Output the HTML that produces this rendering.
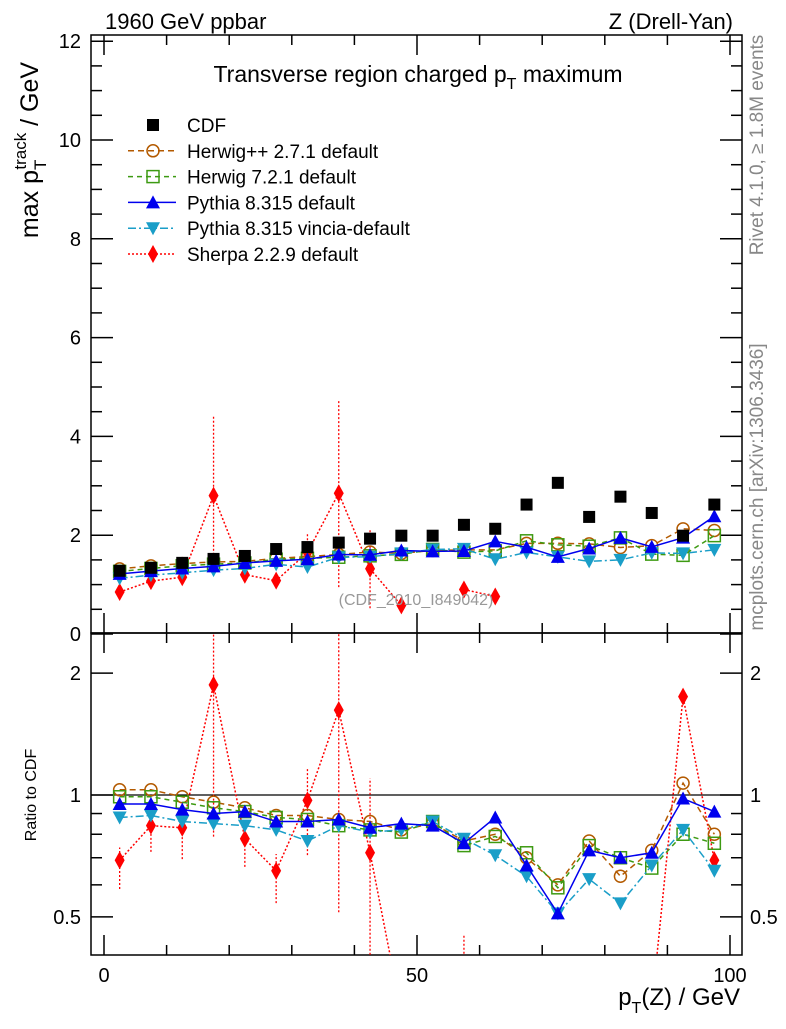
<!DOCTYPE html>
<html><head><meta charset="utf-8"><style>
body{margin:0;background:#fff;width:786px;height:1024px;overflow:hidden}
svg text{font-family:"Liberation Sans",sans-serif}
</style></head><body>
<svg id="c" width="786" height="1024" xmlns="http://www.w3.org/2000/svg">
<defs>
<clipPath id="cm"><rect x="91" y="35" width="651" height="598"/></clipPath>
<clipPath id="cr"><rect x="91" y="633" width="651" height="322"/></clipPath>
</defs>
<g id="axes"></g>
<g id="main" clip-path="url(#cm)"></g>
<g id="ratio" clip-path="url(#cr)"></g>
<text x="105" y="29" font-size="22">1960 GeV ppbar</text>
<text x="733" y="29" font-size="22" text-anchor="end">Z (Drell-Yan)</text>
<text x="418" y="82" font-size="23" text-anchor="middle">Transverse region charged p<tspan font-size="16" dy="7">T</tspan><tspan dy="-7"> maximum</tspan></text>
<text x="416" y="605" font-size="16" fill="#999" text-anchor="middle">(CDF_2010_I849042)</text>
<text transform="translate(763,145) rotate(-90)" font-size="19" fill="#888" text-anchor="middle">Rivet 4.1.0, ≥ 1.8M events</text>
<text transform="translate(763,487) rotate(-90)" font-size="19" fill="#888" text-anchor="middle">mcplots.cern.ch [arXiv:1306.3436]</text>
<text transform="translate(38,150) rotate(-90)" font-size="25" text-anchor="middle">max p<tspan font-size="17" dy="8">T</tspan><tspan font-size="17" dy="-20" dx="-10">track</tspan><tspan dy="12"> / GeV</tspan></text>
<text transform="translate(36,795) rotate(-90)" font-size="16" text-anchor="middle">Ratio to CDF</text>
<text x="740" y="1005" font-size="24" text-anchor="end">p<tspan font-size="16" dy="8">T</tspan><tspan dy="-8">(Z) / GeV</tspan></text>
<g id="legend"></g>
</svg>
<script>
const bins=[2.5,7.5,12.5,17.5,22.5,27.5,32.5,37.5,42.5,47.5,52.5,57.5,62.5,67.5,72.5,77.5,82.5,87.5,92.5,97.5];
const cdf=[1.28,1.34,1.44,1.52,1.58,1.72,1.76,1.85,1.93,1.99,1.99,2.21,2.13,2.62,3.06,2.37,2.78,2.45,1.99,2.62];
const rHpp=[1.03,1.03,0.99,0.96,0.93,0.89,0.89,0.87,0.86,0.82,0.85,0.77,0.80,0.70,0.60,0.77,0.63,0.73,1.07,0.80];
const rH7=[0.99,0.99,0.96,0.93,0.91,0.88,0.87,0.84,0.82,0.81,0.86,0.75,0.79,0.72,0.59,0.75,0.70,0.66,0.80,0.76];
const rPy=[0.95,0.95,0.92,0.90,0.91,0.86,0.86,0.87,0.83,0.85,0.84,0.76,0.88,0.67,0.51,0.73,0.70,0.72,0.98,0.91];
const rVin=[0.88,0.89,0.86,0.85,0.84,0.82,0.77,0.84,0.81,0.82,0.86,0.78,0.71,0.63,0.51,0.62,0.54,0.67,0.82,0.65];
const sherpa=[0.85,1.07,1.15,2.8,1.2,1.08,1.65,2.85,1.32,0.58,null,0.90,0.76,null,null,null,null,null,null,null];
const rSherpa=[0.69,0.84,0.83,1.87,0.78,0.65,0.97,1.62,0.72,0.29,0.3,0.35,0.3,0.3,0.3,0.3,0.3,0.3,1.75,0.69];
const sherpaErr=[0.1,0.1,0.15,1.6,0.15,0.15,0.4,1.9,0.8,0.1,0,0.1,0.1,0,0,0,0,0,0,0];
const yTicks=[0,2,4,6,8,10,12];
const xTicks=[0,50,100];
const rTicks=[0.5,1,2];

const NS="http://www.w3.org/2000/svg";
const X=v=>104+v*6.26;
const Y=v=>634-v*49.4;
const R=v=>795-Math.log10(v)*405;
function mk(p,t,a){const e=document.createElementNS(NS,t);for(const k in a)e.setAttribute(k,a[k]);p.appendChild(e);return e;}
const ax=document.getElementById('axes'),gm=document.getElementById('main'),gr=document.getElementById('ratio'),lg=document.getElementById('legend');

let f1=mk(ax,'rect',{x:91,y:35,width:651,height:598,fill:'none',stroke:'#000','stroke-width':1.5});

let f2=mk(ax,'rect',{x:91,y:633,width:651,height:322,fill:'none',stroke:'#000','stroke-width':1.5});

for(let v=0;v<=100;v+=10){const L=v%50==0?20:10;
 for(const [yb,yt] of [[633,35],[955,633]]){
  mk(ax,'line',{x1:X(v),x2:X(v),y1:yb,y2:yb-L,stroke:'#000','stroke-width':1.5});
  mk(ax,'line',{x1:X(v),x2:X(v),y1:yt,y2:yt+L,stroke:'#000','stroke-width':1.5});}}
xTicks.forEach(v=>{const t=mk(ax,'text',{x:X(v),y:982,'font-size':20,'text-anchor':'middle'});t.textContent=v;
});
for(let v=0;v<=12;v+=0.5){const L=v%2==0?22:11;const y=Y(v);if(y<35)continue;
 mk(ax,'line',{x1:91,x2:91+L,y1:y,y2:y,stroke:'#000','stroke-width':1.5});
 mk(ax,'line',{x1:742,x2:742-L,y1:y,y2:y,stroke:'#000','stroke-width':1.5});}
yTicks.forEach(v=>{const t=mk(ax,'text',{x:81,y:Y(v)+7,'font-size':20,'text-anchor':'end'});t.textContent=v;
});
[0.5,0.6,0.7,0.8,0.9,1,2].forEach(v=>{const L=(v==0.5||v==1||v==2)?22:11;const y=R(v);
 mk(ax,'line',{x1:91,x2:91+L,y1:y,y2:y,stroke:'#000','stroke-width':1.5});
 mk(ax,'line',{x1:742,x2:742-L,y1:y,y2:y,stroke:'#000','stroke-width':1.5});});
rTicks.forEach(v=>{for(const [x,a] of [[81,'end'],[750,'start']]){const t=mk(ax,'text',{x:x,y:R(v)+7,'font-size':20,'text-anchor':a});t.textContent=v;
}});
mk(gr,'line',{x1:91,x2:742,y1:R(1),y2:R(1),stroke:'#000','stroke-width':1.3});

function marker(g,type,x,y,c){
 if(type=='sq')return mk(g,'rect',{x:x-6,y:y-6,width:12,height:12,fill:'#000'});
 if(type=='circ')return mk(g,'circle',{cx:x,cy:y,r:6,fill:'none',stroke:c,'stroke-width':1.5});
 if(type=='osq')return mk(g,'rect',{x:x-6,y:y-6,width:12,height:12,fill:'none',stroke:c,'stroke-width':1.5});
 if(type=='up')return mk(g,'polygon',{points:`${x-7},${y+6} ${x+7},${y+6} ${x},${y-7}`,fill:c});
 if(type=='dn')return mk(g,'polygon',{points:`${x-7},${y-6} ${x+7},${y-6} ${x},${y+7}`,fill:c});
 if(type=='dia')return mk(g,'polygon',{points:`${x},${y-9} ${x+5},${y} ${x},${y+9} ${x-5},${y}`,fill:c});
}
function series(g,vals,ymap,type,c,dash,name){
 let d='';let pen=false;
 vals.forEach((v,i)=>{if(v==null){pen=false;return;}d+=(pen?'L':'M')+X(bins[i])+' '+ymap(v);pen=true;});
 if(dash!==null){const p=mk(g,'path',{d:d,fill:'none',stroke:c,'stroke-width':1.5,'stroke-dasharray':dash});
 }
 vals.forEach((v,i)=>{if(v==null)return;const m=marker(g,type,X(bins[i]),ymap(v),c);
 });
}
const defs=[
 {n:'herwigpp',r:rHpp,t:'circ',c:'#b35a00',d:'6,4',l:'Herwig++ 2.7.1 default'},
 {n:'herwig7',r:rH7,t:'osq',c:'#3d9a12',d:'5,4',l:'Herwig 7.2.1 default'},
 {n:'vincia',r:rVin,t:'dn',c:'#1a9ec8',d:'8,3,2,3',l:'Pythia 8.315 vincia-default'},
 {n:'pythia',r:rPy,t:'up',c:'#0000ee',d:'none',l:'Pythia 8.315 default'}];
sherpa.forEach((v,i)=>{if(v==null||!sherpaErr[i])return;
 const l=mk(gm,'line',{x1:X(bins[i]),x2:X(bins[i]),y1:Y(v-Math.min(sherpaErr[i],v-0.3)),y2:Y(v+sherpaErr[i]),stroke:'#f00','stroke-width':1.3,'stroke-dasharray':'2,2'});
 
 const rl=mk(gr,'line',{x1:X(bins[i]),x2:X(bins[i]),y1:R(Math.max(0.3,(v-Math.min(sherpaErr[i],v-0.3))/cdf[i])),y2:R((v+sherpaErr[i])/cdf[i]),stroke:'#f00','stroke-width':1.3,'stroke-dasharray':'2,2'});
 });
series(gm,sherpa,Y,'dia','#f00','2,2','sherpa');
series(gr,rSherpa,R,'dia','#f00','2,2','sherpa-ratio');
defs.forEach(s=>{
 series(gm,s.r.map((r,i)=>r*cdf[i]),Y,s.t,s.c,s.d,s.n);
 series(gr,s.r,R,s.t,s.c,s.d,s.n+'-ratio');});
series(gm,cdf,Y,'sq','#000',null,'cdf');
const leg=[{l:'CDF',t:'sq',c:'#000',d:null},defs[0],defs[1],defs[3],defs[2],{l:'Sherpa 2.2.9 default',t:'dia',c:'#f00',d:'2,2'}];
leg.forEach((s,i)=>{const y=125+i*25.8;
 if(s.d!==null){const ln=mk(lg,'line',{x1:128,x2:176,y1:y,y2:y,stroke:s.c,'stroke-width':1.5,'stroke-dasharray':s.d});
 }
 const m=marker(lg,s.t,153,y,s.c);
 const t=mk(lg,'text',{x:187,y:y+7,'font-size':19});t.textContent=s.l;
 });
</script>
</body></html>
